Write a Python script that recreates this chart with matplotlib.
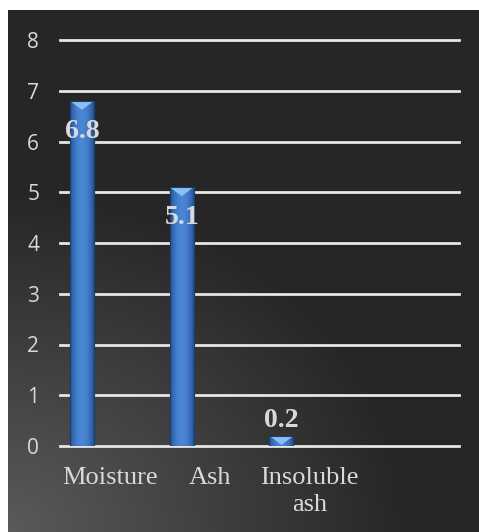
"""
Proximate composition bar chart (dark theme, bevelled bars)
"""

import numpy as np
import matplotlib
matplotlib.use('Agg')
import matplotlib.pyplot as plt
from matplotlib.patches import Polygon

# data
categories = ['Moisture', 'Ash', 'Insoluble\nash', '']
values = [6.8, 5.1, 0.2]
y_ticks = [0, 1, 2, 3, 4, 5, 6, 7, 8]

W, H, DPI = 479, 532, 100
TEXT = '#d9d9d9'

fig = plt.figure(figsize=(W / DPI, H / DPI), dpi=DPI, facecolor='white')

# background panel: dark with a soft glow from the lower-left corner
bg = fig.add_axes([8 / W, 0, 1 - 8 / W, (H - 10) / H])
bg.set_axis_off()
px_w, px_h = W - 8, H - 10
xx, yy = np.meshgrid(np.arange(px_w), np.arange(px_h))
d = np.sqrt((xx / 400.0) ** 2 + (yy / 340.0) ** 2)
glow = np.clip(1 - d, 0, 1)
gray = (0x26 + (0x5a - 0x26) * glow) / 255.0
bg.imshow(np.dstack([gray, gray, gray]), origin='lower', aspect='auto',
          extent=(0, 1, 0, 1), interpolation='bilinear')

# plotting area
ax = fig.add_axes([60 / W, (H - 446) / H, (459 - 60) / W, (446 - 40) / H])
ax.patch.set_alpha(0)
for s in ax.spines.values():
    s.set_visible(False)

ax.set_xlim(-0.5, len(categories) - 0.5)
ax.set_ylim(0, 8)
ax.set_yticks(y_ticks)
ax.yaxis.grid(True, color='#e6e6e6', linewidth=2.0)
ax.set_axisbelow(True)
for gl in ax.get_ygridlines():
    gl.set_clip_on(False)

ax.tick_params(axis='y', length=0, pad=15, labelcolor=TEXT, labelsize=15)
ax.tick_params(axis='x', length=0, pad=15, labelcolor=TEXT, labelsize=19)
for lbl in ax.get_yticklabels():
    lbl.set_family('Open Sans')

ax.set_xticks(range(len(categories)))
ax.set_xticklabels(categories, family='Liberation Serif', linespacing=1.3)

x = np.arange(len(values)) - 0.28
bars = ax.bar(x, values, width=0.24, color='#3a72c0', edgecolor='#1d3f6e',
              linewidth=0.8, zorder=3)

# horizontal shading across each bar
prof = np.linspace(-1, 1, 64)
shade = np.cos(prof * np.pi / 2) ** 0.7
dark = np.array([0x1f, 0x4c, 0x8c]) / 255.0
light = np.array([0x4a, 0x86, 0xd6]) / 255.0
grad = dark[None, :] + (light - dark)[None, :] * shade[:, None]
grad = grad[None, :, :]

px_per_unit = (446 - 40) / 8.0
bevel_h = 9 / px_per_unit
for bar in bars:
    x0, w, h = bar.get_x(), bar.get_width(), bar.get_height()
    im = ax.imshow(grad, extent=(x0, x0 + w, 0, h), aspect='auto',
                   interpolation='bilinear', zorder=4)
    im.set_clip_path(bar)
    # lighter bevel at the top of the bar
    tri = Polygon([(x0, h), (x0 + w, h), (x0 + w / 2, h - bevel_h)],
                  closed=True, facecolor='#8cc0f0', edgecolor='none', zorder=5)
    ax.add_patch(tri)
    tri.set_clip_path(bar)
    edge = plt.Rectangle((x0, 0), w, h, fill=False, edgecolor='#1d3f6e',
                         linewidth=0.8, zorder=6)
    ax.add_patch(edge)

# value labels: inside the top of tall bars, above short ones
for bar, v in zip(bars, values):
    cx = bar.get_x() + bar.get_width() / 2
    offset = -22 if v > 1 else 11
    ax.annotate(f'{v:.1f}', xy=(cx, v), xytext=(0, offset),
                textcoords='offset points', ha='center', va='center',
                fontsize=20, fontweight='bold', family='Liberation Serif',
                color=TEXT, zorder=7)

ax.set_ylim(0, 8)
fig.savefig('out.png', dpi=DPI, facecolor=fig.get_facecolor())
